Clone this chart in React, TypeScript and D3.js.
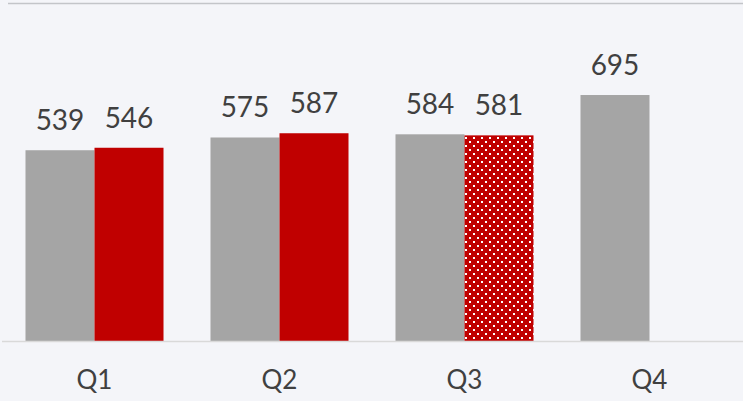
import React, { useRef, useEffect } from "react";
import * as d3 from "d3";

const quarters = ["Q1", "Q2", "Q3", "Q4"];
const priorYear = [539, 575, 584, 695];
const currentYear: (number | null)[] = [546, 587, 581, null];
// the Q3 current-year bar is an estimate, drawn dotted
const estimated = [false, false, true, false];

const W = 743;
const H = 401;

const App = () => {
  const ref = useRef<SVGSVGElement>(null);

  useEffect(() => {
    const svg = d3.select(ref.current);
    svg.selectAll("*").remove();

    const margin = { top: 3, bottom: 60, left: 2, right: 1 };
    const baseY = H - margin.bottom;

    svg.append("rect").attr("width", W).attr("height", H).attr("fill", "#f4f5f9");

    // dotted fill for estimate
    const pat = svg
      .append("defs")
      .append("pattern")
      .attr("id", "dots")
      .attr("patternUnits", "userSpaceOnUse")
      .attr("width", 8)
      .attr("height", 8);
    pat.append("rect").attr("width", 8).attr("height", 8).attr("fill", "#c00000");
    pat.append("rect").attr("x", 1).attr("y", 1).attr("width", 2).attr("height", 2).attr("fill", "#fff");
    pat.append("rect").attr("x", 5).attr("y", 5).attr("width", 2).attr("height", 2).attr("fill", "#fff");

    const x = d3
      .scaleBand()
      .domain(quarters)
      .range([margin.left, W - margin.right])
      .paddingInner(0.254)
      .paddingOuter(0.127);

    const sub = d3
      .scaleBand()
      .domain(["prior", "current"])
      .range([0, x.bandwidth()]);

    const y = d3.scaleLinear().domain([0, 955]).range([baseY, margin.top]);

    // top border line
    svg
      .append("line")
      .attr("x1", 8)
      .attr("x2", W)
      .attr("y1", 3.5)
      .attr("y2", 3.5)
      .attr("stroke", "#c3c5c9")
      .attr("stroke-width", 1.5);

    const rows = quarters.map((q, i) => ({
      q,
      prior: priorYear[i],
      current: currentYear[i],
      est: estimated[i],
    }));

    const g = svg.append("g");

    g.selectAll(".prior")
      .data(rows)
      .enter()
      .append("rect")
      .attr("x", (d) => x(d.q)! + sub("prior")!)
      .attr("y", (d) => y(d.prior))
      .attr("width", sub.bandwidth())
      .attr("height", (d) => baseY - y(d.prior))
      .attr("fill", "#a5a5a5");

    const cur = rows.filter((d) => d.current != null);
    g.selectAll(".current")
      .data(cur)
      .enter()
      .append("rect")
      .attr("x", (d) => x(d.q)! + sub("current")!)
      .attr("y", (d) => y(d.current as number))
      .attr("width", sub.bandwidth())
      .attr("height", (d) => baseY - y(d.current as number))
      .attr("fill", (d) => (d.est ? "url(#dots)" : "#c00000"));

    const labelStyle = (sel: any) =>
      sel
        .attr("text-anchor", "middle")
        .attr("font-family", "Lato, 'Open Sans', sans-serif")
        .attr("font-size", "28px")
        .attr("fill", "#404040");

    g.selectAll(".lblPrior")
      .data(rows)
      .enter()
      .append("text")
      .call(labelStyle)
      .attr("x", (d) => x(d.q)! + sub("prior")! + sub.bandwidth() / 2)
      .attr("y", (d) => y(d.prior) - 20)
      .text((d) => d.prior);

    g.selectAll(".lblCur")
      .data(cur)
      .enter()
      .append("text")
      .call(labelStyle)
      .attr("x", (d) => x(d.q)! + sub("current")! + sub.bandwidth() / 2)
      .attr("y", (d) => y(d.current as number) - 20)
      .text((d) => d.current as number);

    // baseline
    svg
      .append("line")
      .attr("x1", 2)
      .attr("x2", W)
      .attr("y1", baseY + 0.5)
      .attr("y2", baseY + 0.5)
      .attr("stroke", "#d9d9d9")
      .attr("stroke-width", 1.5);

    svg
      .selectAll(".cat")
      .data(quarters)
      .enter()
      .append("text")
      .call(labelStyle)
      .attr("font-size", "26px")
      .attr("x", (d) => x(d)! + x.bandwidth() / 2)
      .attr("y", 389)
      .text((d) => d);
  }, []);

  return (
    <svg
      ref={ref}
      width={W}
      height={H}
      style={{ position: "absolute", left: 0, top: 0 }}
    />
  );
};

export default App;
